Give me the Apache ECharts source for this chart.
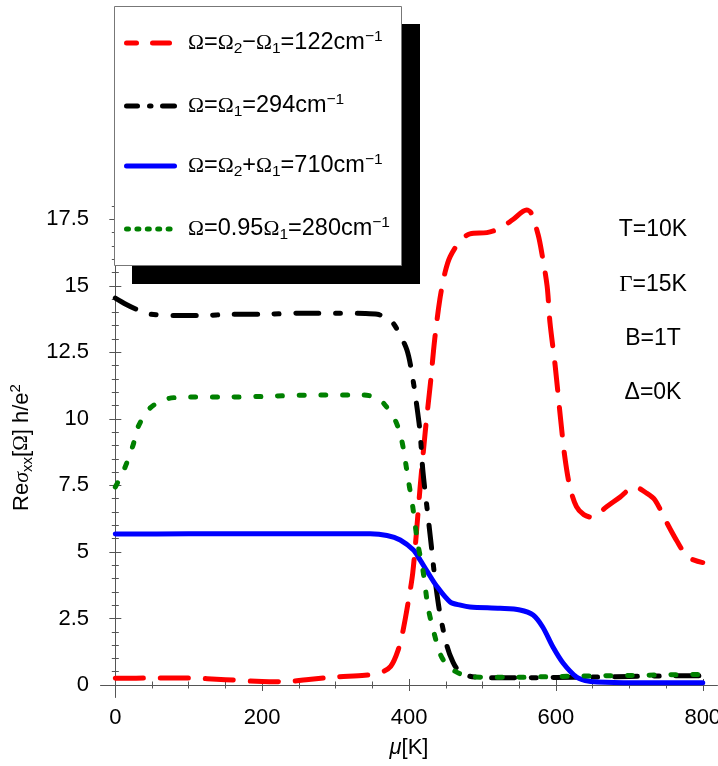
<!DOCTYPE html>
<html><head><meta charset="utf-8">
<script src="https://cdn.jsdelivr.net/npm/echarts@6/dist/echarts.min.js"></script>
<style>html,body{margin:0;padding:0;background:#fff;overflow:hidden}#c{width:718px;height:766px}</style>
</head><body><div id="c"></div>
<script>
// ---- data ----
const redX = [0, 50, 100, 150, 200, 230, 260, 300, 340, 360, 375, 385, 392, 400, 405, 410, 415, 422, 429, 435, 442, 449, 456, 470, 483, 506, 523, 542, 560, 566, 576, 581, 588, 592, 599, 606, 612, 619, 628, 638, 649, 669, 687, 707, 724, 735, 751, 765, 780, 800];
const redY = [0.25, 0.26, 0.26, 0.2, 0.13, 0.12, 0.2, 0.3, 0.37, 0.45, 0.7, 1.3, 2.07, 3.3, 4.2, 5.7, 7.4, 9.5, 11.3, 13.0, 14.5, 15.5, 16.1, 16.7, 16.95, 17.0, 17.15, 17.5, 17.85, 17.75, 16.9, 16.2, 15.0, 13.6, 12.0, 10.1, 8.6, 7.45, 6.7, 6.4, 6.3, 6.7, 7.05, 7.45, 7.2, 6.95, 6.1, 5.4, 4.8, 4.6];

const blackX = [0, 15, 31, 47, 79, 115, 160, 200, 250, 306, 340, 357, 365, 375, 383, 397, 404, 411, 415, 419, 426, 431, 435, 442, 452, 460, 467, 480, 500, 550, 600, 650, 700, 750, 800];
const blackY = [14.54, 14.3, 14.09, 13.94, 13.88, 13.88, 13.93, 13.93, 13.97, 13.97, 13.96, 13.93, 13.85, 13.7, 13.4, 12.6, 11.7, 10.4, 9.5, 8.0, 6.3, 5.07, 4.06, 2.7, 1.43, 0.85, 0.56, 0.35, 0.28, 0.27, 0.28, 0.3, 0.32, 0.34, 0.35];

const blueX = [0, 100, 200, 300, 347, 370, 388, 406, 415, 424, 438, 456, 470, 483, 524, 551, 569, 582, 596, 610, 628, 640, 656, 705, 800];
const blueY = [5.67, 5.68, 5.68, 5.68, 5.68, 5.62, 5.45, 5.07, 4.7, 4.3, 3.7, 3.12, 3.0, 2.93, 2.88, 2.82, 2.63, 2.18, 1.43, 0.82, 0.3, 0.17, 0.11, 0.08, 0.08];

const greenX = [0, 12, 24, 31, 47, 70, 102, 160, 220, 280, 337, 355, 365, 381, 390, 399, 405, 412, 419, 426, 433, 442, 450, 460, 473, 487, 544, 600, 700, 800];
const greenY = [7.44, 8.1, 9.0, 9.7, 10.4, 10.75, 10.82, 10.82, 10.86, 10.9, 10.9, 10.8, 10.6, 9.96, 9.2, 7.7, 6.7, 5.3, 4.3, 2.9, 2.07, 1.2, 0.8, 0.56, 0.38, 0.3, 0.29, 0.32, 0.36, 0.4];

// ---- tick labels ----
const xMajorTicks = [0, 200, 400, 600, 800];
const xMinorTicks = [0, 50, 100, 150, 200, 250, 300, 350, 400, 450, 500, 550, 600, 650, 700, 750, 800];
const yMajorTicks = [0, 2.5, 5, 7.5, 10, 12.5, 15, 17.5];
const yMinorTicks = [0, 0.5, 1, 1.5, 2, 2.5, 3, 3.5, 4, 4.5, 5, 5.5, 6, 6.5, 7, 7.5, 8, 8.5, 9, 9.5, 10, 10.5, 11, 11.5, 12, 12.5, 13, 13.5, 14, 14.5, 15, 15.5, 16, 16.5, 17, 17.5, 18];

const legendTexts = [
  '{g|Ω}{t|=}{g|Ω}{b|2}{t|−}{g|Ω}{b|1}{t|=122cm}{p|−1}',
  '{g|Ω}{t|=}{g|Ω}{b|1}{t|=294cm}{p|−1}',
  '{g|Ω}{t|=}{g|Ω}{b|2}{t|+}{g|Ω}{b|1}{t|=710cm}{p|−1}',
  '{g|Ω}{t|=0.95}{g|Ω}{b|1}{t|=280cm}{p|−1}'
];
const annotTexts = ['{a|T=10K}', '{ag|Γ}{a|=15K}', '{a|B=1T}', '{a|Δ=0K}'];

const SANS = 'Liberation Sans, Arial, sans-serif';
const SERIF = 'Liberation Serif, Times New Roman, serif';
const AX = '#555';

function zip(xs, ys) { return xs.map((x, i) => [x, ys[i]]); }

const XMIN = -19.5, XMAX = 819.4, YMIN = -0.451, YMAX = 18.3;

function xAxisDef(pos, ticks, len, labels) {
  return {
    type: 'value', position: pos, min: XMIN, max: XMAX,
    axisLine: { show: true, lineStyle: { color: AX, width: 1 } },
    axisTick: { show: true, inside: true, length: len, customValues: ticks, lineStyle: { color: AX, width: 1 } },
    axisLabel: labels ? { show: true, customValues: xMajorTicks, fontSize: 22, fontFamily: SANS, color: '#000', margin: 10 } : { show: false },
    splitLine: { show: false }
  };
}
function yAxisDef(pos, ticks, len, labels) {
  return {
    type: 'value', position: pos, min: YMIN, max: YMAX,
    axisLine: { show: true, lineStyle: { color: AX, width: 1 } },
    axisTick: { show: true, inside: true, length: len, customValues: ticks, lineStyle: { color: AX, width: 1 } },
    axisLabel: labels ? { show: true, customValues: yMajorTicks, fontSize: 22, fontFamily: SANS, color: '#000', margin: 12 } : { show: false },
    splitLine: { show: false }
  };
}

const xAxes = [
  xAxisDef('bottom', xMajorTicks, 6, true),
  xAxisDef('top', xMajorTicks, 6, false),
  xAxisDef('top', xMinorTicks, 3.5, false),
  xAxisDef('bottom', xMinorTicks, 3.5, false)
];
Object.assign(xAxes[0], {
  name: '{i|μ}{t|[K]}', nameLocation: 'middle', nameGap: 40,
  nameTextStyle: { rich: {
    i: { fontSize: 22, fontFamily: SANS, fontStyle: 'italic', color: '#000' },
    t: { fontSize: 22, fontFamily: SANS, color: '#000' } } }
});
const yAxes = [
  yAxisDef('left', yMajorTicks, 6, true),
  yAxisDef('right', yMajorTicks, 6, false),
  yAxisDef('right', yMinorTicks, 3.5, false),
  yAxisDef('left', yMinorTicks, 3.5, false)
];
Object.assign(yAxes[0], {
  name: '{t|Re}{s|σ}{b|xx}{t|[}{g|Ω}{t|] h/e}{p|2}', nameLocation: 'middle', nameGap: 64, nameRotate: 90,
  nameTextStyle: { rich: {
    t: { fontSize: 22, fontFamily: SANS, color: '#000', lineHeight: 27 },
    s: { fontSize: 22, fontFamily: SERIF, fontStyle: 'italic', color: '#000', lineHeight: 27 },
    g: { fontSize: 21, fontFamily: SERIF, color: '#000', lineHeight: 27 },
    b: { fontSize: 15, fontFamily: SANS, color: '#000', lineHeight: 12, verticalAlign: 'bottom' },
    p: { fontSize: 15, fontFamily: SANS, color: '#000', lineHeight: 14, verticalAlign: 'top' } } }
});

const richZ = {
  t: { fontSize: 23.5, fontFamily: SANS, fill: '#000', lineHeight: 28 },
  g: { fontSize: 21.5, fontFamily: SERIF, fill: '#000', lineHeight: 28 },
  b: { fontSize: 15.5, fontFamily: SANS, fill: '#000', lineHeight: 12, verticalAlign: 'bottom' },
  p: { fontSize: 15.5, fontFamily: SANS, fill: '#000', lineHeight: 15, verticalAlign: 'top' },
  a: { fontSize: 23, fontFamily: SANS, fill: '#000', lineHeight: 28 },
  ag: { fontSize: 23, fontFamily: SERIF, fill: '#000', lineHeight: 28 }
};

const rowY = [43, 106, 166, 229];
const graphic = [
  { type: 'rect', z: 100, shape: { x: 132, y: 24, width: 288, height: 260 }, style: { fill: '#000' } },
  { type: 'rect', z: 101, shape: { x: 114.5, y: 6.5, width: 287, height: 259 }, style: { fill: '#fff', stroke: '#777', lineWidth: 1 } },
  // legend samples
  { type: 'line', z: 102, shape: { x1: 126.5, y1: rowY[0], x2: 136.5, y2: rowY[0] }, style: { stroke: '#ff0000', lineWidth: 5, lineCap: 'round' } },
  { type: 'line', z: 102, shape: { x1: 152.5, y1: rowY[0], x2: 169.5, y2: rowY[0] }, style: { stroke: '#ff0000', lineWidth: 5, lineCap: 'round' } },
  { type: 'line', z: 102, shape: { x1: 126.5, y1: rowY[1], x2: 137.5, y2: rowY[1] }, style: { stroke: '#000', lineWidth: 5, lineCap: 'round' } },
  { type: 'line', z: 102, shape: { x1: 149.5, y1: rowY[1], x2: 151, y2: rowY[1] }, style: { stroke: '#000', lineWidth: 5, lineCap: 'round' } },
  { type: 'line', z: 102, shape: { x1: 162.5, y1: rowY[1], x2: 174.5, y2: rowY[1] }, style: { stroke: '#000', lineWidth: 5, lineCap: 'round' } },
  { type: 'line', z: 102, shape: { x1: 126.5, y1: rowY[2], x2: 174.5, y2: rowY[2] }, style: { stroke: '#0000ff', lineWidth: 5, lineCap: 'round' } },
  { type: 'line', z: 102, shape: { x1: 126.5, y1: rowY[3], x2: 175, y2: rowY[3] }, style: { stroke: '#008000', lineWidth: 5, lineCap: 'round', lineDash: [2, 8.4] } }
];
legendTexts.forEach((t, i) => {
  graphic.push({ type: 'text', z: 102, style: { x: 188, y: rowY[i], text: t, rich: richZ, align: 'left', verticalAlign: 'middle', fill: '#000' } });
});
const annotY = [230, 285, 339, 393];
annotTexts.forEach((t, i) => {
  graphic.push({ type: 'text', z: 50, style: { x: 653, y: annotY[i], text: t, rich: richZ, align: 'center', verticalAlign: 'middle', fill: '#000' } });
});

const chart = echarts.init(document.getElementById('c'), null, { renderer: 'canvas' });
chart.setOption({
  animation: false,
  backgroundColor: '#fff',
  grid: { left: 101, right: 1, top: 198, bottom: 69, containLabel: false, outerBoundsMode: 'none' },
  xAxis: xAxes,
  yAxis: yAxes,
  series: [
    { name: 'red', type: 'line', data: zip(redX, redY), symbol: 'none', smooth: 0.3, z: 3,
      lineStyle: { color: '#ff0000', width: 5, type: [28, 17], cap: 'round', join: 'round' } },
    { name: 'black', type: 'line', data: zip(blackX, blackY), symbol: 'none', smooth: 0.3, z: 4,
      lineStyle: { color: '#000', width: 5, type: [23, 16.7, 5, 16.7], cap: 'round', join: 'round' } },
    { name: 'blue', type: 'line', data: zip(blueX, blueY), symbol: 'none', smooth: 0.3, z: 5,
      lineStyle: { color: '#0000ff', width: 5, cap: 'round', join: 'round' } },
    { name: 'green', type: 'line', data: zip(greenX, greenY), symbol: 'none', smooth: 0.3, z: 6,
      lineStyle: { color: '#008000', width: 5, type: [5, 16.7], cap: 'round', join: 'round' } }
  ],
  graphic: graphic
});
</script></body></html>
